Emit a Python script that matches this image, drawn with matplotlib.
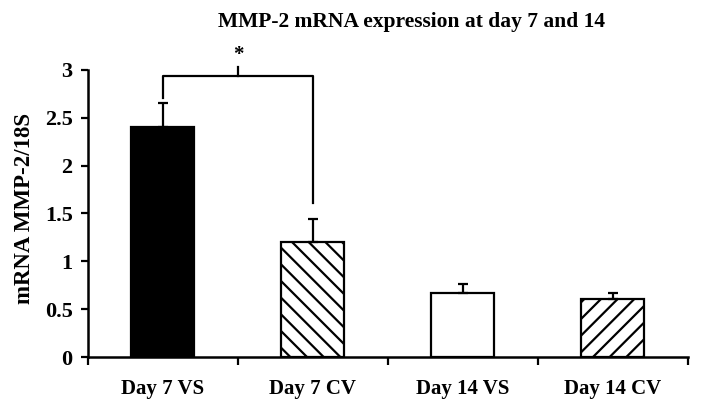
import matplotlib
matplotlib.use("Agg")
import matplotlib.pyplot as plt
import numpy as np

categories = ["Day 7 VS", "Day 7 CV", "Day 14 VS", "Day 14 CV"]
values = [2.40, 1.20, 0.67, 0.61]
errors = [0.25, 0.24, 0.09, 0.06]
yticks = [0, 0.5, 1, 1.5, 2, 2.5, 3]
ytick_labels = ["0", "0.5", "1", "1.5", "2", "2.5", "3"]
title = "MMP-2 mRNA expression at day 7 and 14"
ylabel = "mRNA MMP-2/18S"

plt.rcParams['font.family'] = ['Liberation Serif', 'DejaVu Serif']
plt.rcParams['font.weight'] = 'bold'
plt.rcParams['hatch.linewidth'] = 1.6

fig = plt.figure(figsize=(7.04, 4.16), dpi=100)
ax = fig.add_axes([0.125, 0.1418, 0.852, 0.69])

x = np.arange(len(categories))
faces = ["black", "white", "white", "white"]
hatches = [None, "\\\\", None, "//"]
for i in range(len(categories)):
    ax.bar(x[i], values[i], width=0.42, color=faces[i], edgecolor="black",
           linewidth=1.6, hatch=hatches[i], zorder=2)
ax.errorbar(x, values, yerr=[np.zeros(len(values)), errors], fmt="none",
            ecolor="black", elinewidth=1.6, capsize=3.5, capthick=1.6, zorder=3)

ax.set_xlim(-0.5, len(categories) - 0.5)
ax.set_ylim(0, 3)
ax.set_yticks(yticks)
ax.set_yticklabels(ytick_labels, fontsize=16, fontweight="bold")
ax.set_xticks(x)
ax.set_xticklabels(categories, fontsize=15, fontweight="bold")
ax.tick_params(axis="x", length=0, pad=16)
ax.set_xticks(np.arange(len(categories) + 1) - 0.5, minor=True)
ax.tick_params(axis="x", which="minor", length=6, width=1.6, direction="out")
ax.tick_params(axis="y", length=5, width=1.6, direction="out", pad=6)
for s in ["top", "right"]:
    ax.spines[s].set_visible(False)
for s in ["left", "bottom"]:
    ax.spines[s].set_linewidth(1.8)

ax.set_ylabel(ylabel, fontsize=16.5, fontweight="bold")
ax.yaxis.set_label_coords(25 / 704, 0.5, transform=fig.transFigure)
ax.yaxis.label.set_verticalalignment("center")
fig.text(412 / 704, 1 - 22 / 416, title, ha="center", va="center",
         fontsize=15.5, fontweight="bold")

# significance bracket
yb = 2.94
ax.plot([x[0], x[0], x[1], x[1]], [2.71, yb, yb, 1.61], color="black", lw=1.6,
        clip_on=False, zorder=3)
ax.plot([0.5, 0.5], [yb, 3.03], color="black", lw=1.6, clip_on=False)
ax.text(0.5, 3.05, "*", ha="center", va="bottom", fontsize=15, fontweight="bold")

fig.savefig("out.png", dpi=100)
